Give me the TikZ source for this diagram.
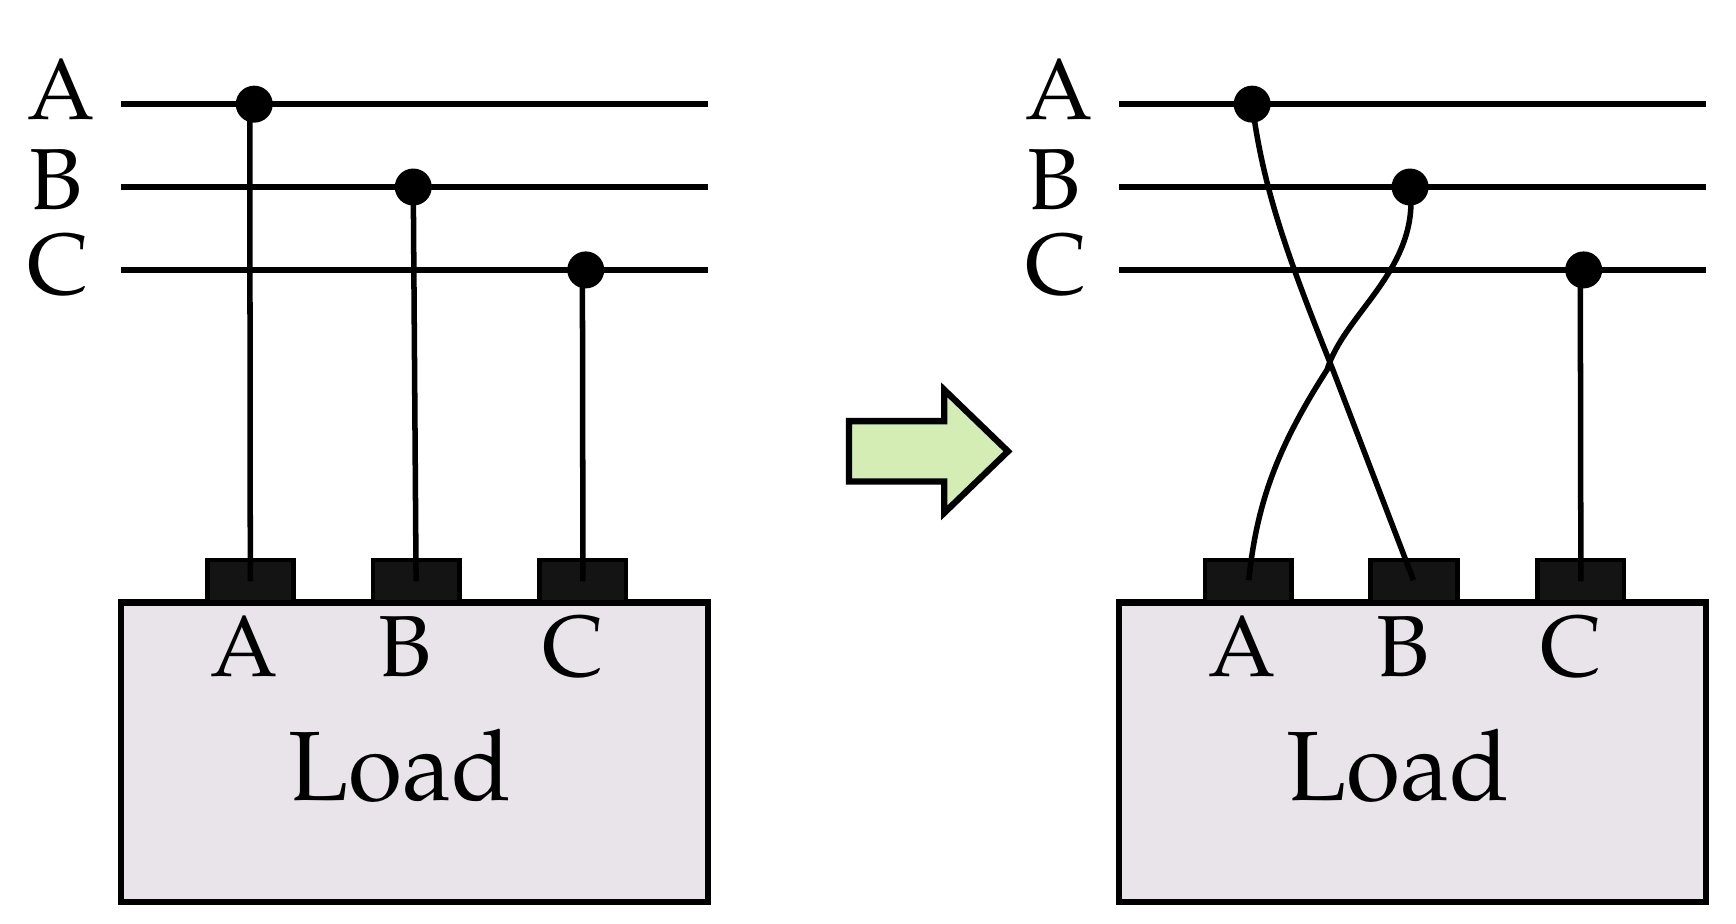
\documentclass[tikz,border=0pt]{standalone}
\usepackage{fontspec}
\setmainfont{TeX Gyre Pagella}
\begin{document}
\begin{tikzpicture}[x=0.01cm,y=-0.01cm,
  wire/.style={line width=1.4pt},
  bus/.style={line width=1.6pt},
  dot/.style={circle,fill=black,inner sep=0pt,minimum size=0.33cm},
  term/.style={draw=black,line width=1.2pt,fill=black!92,minimum width=0.77cm,minimum height=0.38cm,inner sep=0pt},
  load/.style={draw=black,line width=1.6pt,fill=loadc,minimum width=5.24cm,minimum height=2.67cm,inner sep=0pt},
  lbl/.style={font=\fontsize{22}{24}\selectfont},
  big/.style={font=\fontsize{25}{28}\selectfont}]
\definecolor{loadc}{HTML}{E8E4EA}
\definecolor{arrc}{HTML}{D3EDB5}
\useasboundingbox (0,0) rectangle (1550,825);
\foreach \o/\p in {0/L,891/R}{
  \node[lbl] (\p la) at (55+\o,80) {A};
  \node[lbl] (\p lb) at (50+\o,160) {B};
  \node[lbl] (\p lc) at (52+\o,236) {C};
  \coordinate (\p a0) at (108+\o,93); \coordinate (\p a1) at (632+\o,93);
  \coordinate (\p b0) at (108+\o,167); \coordinate (\p b1) at (632+\o,167);
  \coordinate (\p c0) at (108+\o,241); \coordinate (\p c1) at (632+\o,241);
  \draw[bus] (\p a0) -- (\p a1);
  \draw[bus] (\p b0) -- (\p b1);
  \draw[bus] (\p c0) -- (\p c1);
  \node[load] (\p load) at (370+\o,671.5) {};
  \node[big] (\p loadt) at (357+\o,684) {Load};
  \node[lbl] (\p ta) at (218+\o,577) {A};
  \node[lbl] (\p tb) at (362+\o,577) {B};
  \node[lbl] (\p tc) at (512+\o,577) {C};
}
% left terminals, dots
\node[term] (LTa) at (223.5,519) {};
\node[term] (LTb) at (371.5,519) {};
\node[term] (LTc) at (520.5,519) {};
\node[dot] (LDa) at (227,93) {};
\node[dot] (LDb) at (369,167) {};
\node[dot] (LDc) at (523,241) {};
\draw[wire] (LDa.center) ++(-4,0) -- (LTa.center);
\draw[wire] (LDb.center) -- (LTb.center);
\draw[wire] (LDc.center) ++(-3,0) -- (LTc.center);
% right
\node[term] (RTa) at (1114.5,519) {};
\node[term] (RTb) at (1262.5,519) {};
\node[term] (RTc) at (1411.5,519) {};
\node[dot] (RDa) at (1118,93) {};
\node[dot] (RDb) at (1259,167) {};
\node[dot] (RDc) at (1414,241) {};
\coordinate (RAe) at (1262,518);
\coordinate (RBe) at (1115,518);
\draw[wire] (RDa.center) .. controls (1128,170) and (1150,230) .. (1190,330) -- (RAe);
\draw[wire] (RDb.center) .. controls (1268,240) and (1200,280) .. (1185,330) .. controls (1140,400) and (1122,450) .. (RBe);
\draw[wire] (RDc.center) ++(-3,0) -- (RTc.center);
% arrow
\draw[line width=1.6pt,fill=arrc] (758,376) -- (843,376) -- (843,348) -- (900,403) -- (843,458) -- (843,430) -- (758,430) -- cycle;
\end{tikzpicture}
\end{document}
